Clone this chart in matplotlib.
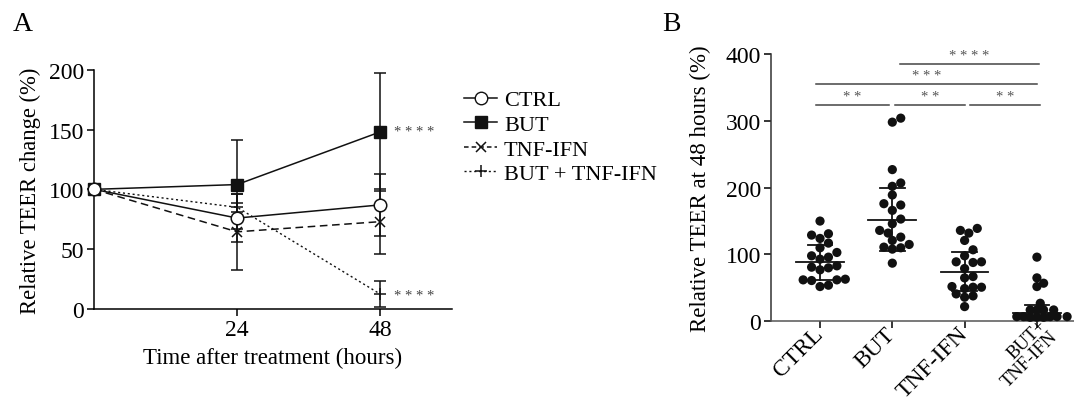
import numpy as np
import matplotlib
matplotlib.use("Agg")
import matplotlib.pyplot as plt
from matplotlib.lines import Line2D

plt.rcParams['font.family'] = ['Liberation Serif', 'DejaVu Serif']
plt.rcParams['axes.linewidth'] = 1.1

# ---- panel A data ----
hours = [0, 24, 48]
ctrl = [100, 76, 87]
ctrl_err = [0, 20, 26]
but = [100, 104, 148]
but_err = [0, 37.5, 49]
tnf = [100, 64.5, 73]
tnf_err = [0, 32, 27]
but_tnf = [100, 85, 12.5]
but_tnf_err = [0, 4, 10.5]

# ---- panel B data ----
groups = ['CTRL', 'BUT', 'TNF-IFN', 'BUT+\nTNF-IFN']
ctrl_48 = [150, 131, 124, 129, 117, 110, 103, 96, 98, 93, 83, 80, 77, 81, 62, 62, 63, 61, 52, 54]
but_48 = [298, 304, 227, 202, 207, 189, 176, 174, 166, 153, 146, 136, 132, 126, 121, 115, 110, 108, 111, 87]
tnf_48 = [136, 132, 139, 121, 107, 98, 89, 88, 89, 79, 65, 67, 51, 49, 51, 52, 38, 41, 36, 22]
but_tnf_48 = [96, 65, 57, 52, 27, 17, 17, 17, 17, 7, 7, 7, 7, 7, 6, 6, 6]
means_48 = [88, 152, 74, 12]
sd_48 = [26, 47, 29, 12]

# significance bars: (x1, x2, y, label)
sig_bars = [(-0.06, 0.95, 323, '* *'), (1.04, 2.0, 323, '* *'), (2.08, 3.04, 323, '* *'),
            (-0.06, 3.0, 355, '* * *'), (1.11, 3.03, 385, '* * * *')]

fig = plt.figure(figsize=(10.74, 4.02), dpi=100)
W, H = 1074, 402

# ================= panel A =================
axA = fig.add_axes([94 / W, 92 / H, 357.7 / W, 239.3 / H])
ek = dict(capsize=4.5, elinewidth=1.1, capthick=1.1, ecolor='#111', clip_on=False)
axA.errorbar(hours, ctrl, yerr=ctrl_err, color='#111', lw=1.1, marker='o', ms=9,
             mfc='white', mec='#111', mew=1.1, zorder=5, **ek)
axA.errorbar(hours, but, yerr=but_err, color='#111', lw=1.1, marker='s', ms=8.5,
             mfc='#111', mec='#111', zorder=4, **ek)
axA.errorbar(hours, tnf, yerr=tnf_err, color='#111', lw=1.1, ls=(0, (5, 3)), marker='x',
             ms=7, mew=1.1, zorder=3, **ek)
axA.errorbar(hours, but_tnf, yerr=but_tnf_err, color='#111', lw=1.0, ls=(0, (1.5, 2)),
             marker='+', ms=8, mew=1.1, zorder=3, **ek)
for ln in axA.lines:
    ln.set_clip_on(False)

axA.set_xlim(0, 60)
axA.set_ylim(0, 200)
axA.set_xticks([24, 48])
axA.set_yticks([0, 50, 100, 150, 200])
axA.spines['top'].set_visible(False)
axA.spines['right'].set_visible(False)
axA.tick_params(direction='out', length=5, width=1.1, labelsize=17, pad=2)
axA.set_xlabel('Time after treatment (hours)', fontsize=16.5, labelpad=5)
axA.set_ylabel('Relative TEER change (%)', fontsize=16.3, labelpad=6)
axA.text(50.3, but[2], '* * * *', fontsize=10.5, color='#444', va='center', ha='left')
axA.text(50.3, but_tnf[2] - 1, '* * * *', fontsize=10.5, color='#444', va='center', ha='left')

handles = [
    Line2D([], [], color='#111', lw=1.1, marker='o', ms=9, mfc='white', mec='#111'),
    Line2D([], [], color='#111', lw=1.1, marker='s', ms=8.5, mfc='#111'),
    Line2D([], [], color='#111', lw=1.1, ls=(0, (3, 2)), marker='x', ms=7, mew=1.1),
    Line2D([], [], color='#111', lw=1.0, ls=(0, (1.5, 2)), marker='+', ms=8, mew=1.1),
]
fig.legend(handles, ['CTRL', 'BUT', 'TNF-IFN', 'BUT + TNF-IFN'], loc='upper left',
           bbox_to_anchor=(455 / W, 1 - 82 / H), frameon=False, fontsize=16,
           handlelength=1.5, handletextpad=0.3, labelspacing=0.18, borderaxespad=0)

fig.text(13 / W, 1 - 31 / H, 'A', fontsize=20, va='baseline')
fig.text(662 / W, 1 - 31 / H, 'B', fontsize=20, va='baseline')

# ================= panel B =================
axB = fig.add_axes([771 / W, 79.7 / H, 303 / W, 267.3 / H])
axB.set_xlim(-0.678, 3.513)
axB.set_ylim(0, 400)

px_x = 1 / 72.3      # data units per pixel (x)
px_y = 400 / 267.3   # data units per pixel (y)
dot_d = 8.6          # dot diameter in pixels


def swarm(values, tight=0.98):
    # simple beeswarm: place each dot at the nearest free horizontal slot
    order = np.argsort(values)
    placed = []
    offs = np.zeros(len(values))
    step = dot_d * 0.5 * tight
    for i in order:
        y = values[i] / px_y
        for k in range(0, 40):
            cands = [0.0] if k == 0 else [k * step, -k * step]
            ok = None
            for c in cands:
                if all((c - px) ** 2 + (y - py) ** 2 >= (dot_d * tight) ** 2 for px, py in placed):
                    ok = c
                    break
            if ok is not None:
                placed.append((ok, y))
                offs[i] = ok * px_x
                break
    return offs


tightness = [0.98, 0.98, 0.98, 0.78]
for gi, vals in enumerate([ctrl_48, but_48, tnf_48, but_tnf_48]):
    vals = np.array(vals, dtype=float)
    xs = gi + swarm(vals, tightness[gi])
    axB.scatter(xs, vals, s=44, color='#111', edgecolors='none', zorder=3, clip_on=False)
    m, s = means_48[gi], sd_48[gi]
    axB.plot([gi - 0.33, gi + 0.33], [m, m], color='#111', lw=1.3, zorder=4)
    axB.plot([gi, gi], [max(m - s, 0), m + s], color='#111', lw=1.3, zorder=4)
    axB.plot([gi - 0.17, gi + 0.17], [m + s, m + s], color='#111', lw=1.3, zorder=4)
    axB.plot([gi - 0.17, gi + 0.17], [max(m - s, 0)] * 2, color='#111', lw=1.3, zorder=4)

for x1, x2, y, lab in sig_bars:
    axB.plot([x1, x2], [y, y], color='#444', lw=1.1, clip_on=False)
    axB.text((x1 + x2) / 2, y + 13, lab, ha='center', va='center', fontsize=10.5, color='#555')

axB.set_xticks(range(4))
# last (two-line) label is drawn separately, a little up and right of its tick
axB.set_xticklabels(groups[:3] + [''], rotation=45, ha='right', va='center',
                    rotation_mode='anchor', fontsize=13.3)
axB.annotate(groups[3], xy=(3, 0), xycoords=axB.get_xaxis_transform(),
             xytext=(9, -4.5), textcoords='offset points', rotation=45,
             ha='right', va='center', rotation_mode='anchor', fontsize=13.3,
             linespacing=0.95, annotation_clip=False)
axB.set_yticks([0, 100, 200, 300, 400])
axB.spines['top'].set_visible(False)
axB.spines['right'].set_visible(False)
axB.spines['left'].set_color('#333')
axB.spines['bottom'].set_color('#555')
axB.tick_params(direction='out', length=5, width=1.1, labelsize=17, pad=2)
axB.tick_params(axis='x', pad=1.5)
axB.set_ylabel('Relative TEER at 48 hours (%)', fontsize=16.5, labelpad=11)

fig.savefig('out.png', dpi=100)
